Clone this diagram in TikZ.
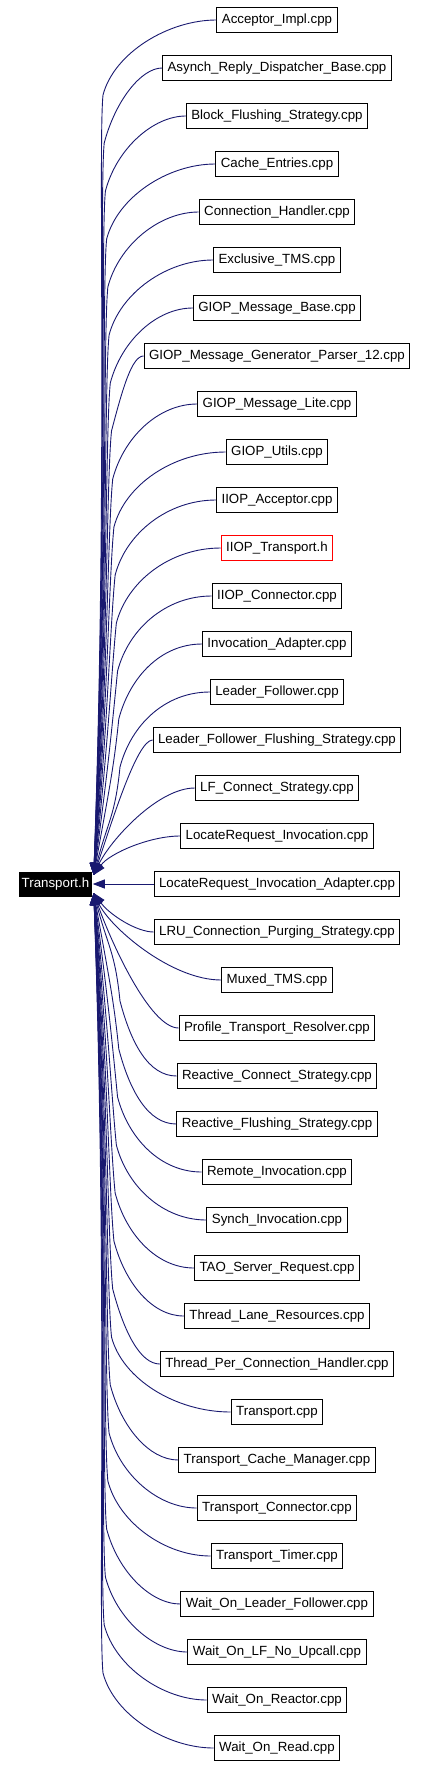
\documentclass[tikz,border=0pt]{standalone}
\usepackage{fontspec}
\setmainfont{Liberation Sans}
\usepackage{xcolor}
\usetikzlibrary{arrows.meta}
\usetikzlibrary{calc}
\definecolor{edgeblue}{RGB}{25,25,112}

\begin{document}
\begin{tikzpicture}[x=1pt, y=-1pt,
  every node/.style={font=\fontsize{13.3}{15}\selectfont, inner xsep=5pt, inner ysep=6pt, text height=10pt, text depth=3pt, line width=1pt},
  src/.style={draw=black},
  hdr/.style={draw=red},
  dep/.style={edgeblue, line width=0.9pt, -{Triangle[length=12pt, width=9pt]}}
]
\useasboundingbox (0,0) rectangle (430,1766);
\node[fill=black, text=white, inner xsep=3pt] (transport) at (55.5,884) {Transport.h};
\coordinate (tipup) at ($(transport.east)+(1,-9)$);
\coordinate (tiplow) at ($(transport.east)+(1,9)$);
\foreach \name/\kind [count=\i] in {
  Acceptor\_Impl.cpp/src, Asynch\_Reply\_Dispatcher\_Base.cpp/src,
  Block\_Flushing\_Strategy.cpp/src, Cache\_Entries.cpp/src,
  Connection\_Handler.cpp/src, Exclusive\_TMS.cpp/src,
  GIOP\_Message\_Base.cpp/src, GIOP\_Message\_Generator\_Parser\_12.cpp/src,
  GIOP\_Message\_Lite.cpp/src, GIOP\_Utils.cpp/src,
  IIOP\_Acceptor.cpp/src, IIOP\_Transport.h/hdr,
  IIOP\_Connector.cpp/src, Invocation\_Adapter.cpp/src,
  Leader\_Follower.cpp/src, Leader\_Follower\_Flushing\_Strategy.cpp/src,
  LF\_Connect\_Strategy.cpp/src, LocateRequest\_Invocation.cpp/src,
  LocateRequest\_Invocation\_Adapter.cpp/src, LRU\_Connection\_Purging\_Strategy.cpp/src,
  Muxed\_TMS.cpp/src, Profile\_Transport\_Resolver.cpp/src,
  Reactive\_Connect\_Strategy.cpp/src, Reactive\_Flushing\_Strategy.cpp/src,
  Remote\_Invocation.cpp/src, Synch\_Invocation.cpp/src,
  TAO\_Server\_Request.cpp/src, Thread\_Lane\_Resources.cpp/src,
  Thread\_Per\_Connection\_Handler.cpp/src, Transport.cpp/src,
  Transport\_Cache\_Manager.cpp/src, Transport\_Connector.cpp/src,
  Transport\_Timer.cpp/src, Wait\_On\_Leader\_Follower.cpp/src,
  Wait\_On\_LF\_No\_Upcall.cpp/src, Wait\_On\_Reactor.cpp/src,
  Wait\_On\_Read.cpp/src}
  \node[\kind] (f\i) at (277,{20+48*(\i-1)}) {\name};
\foreach \i in {1,...,18} {
  \pgfmathtruncatemacro{\rk}{19-\i}
  \pgfmathsetmacro{\yb}{20+48*(\i-1)}
  \ifnum\rk<4
    \draw[dep] let \p1=(f\i.west) in (f\i.west) .. controls ({0.5*\x1+60pt},\y1) and ($(tipup)+(16,{-12*\rk-10})$) .. (tipup);
  \else
    \pgfmathsetmacro{\xk}{103+17*(18-\rk)/14}
    \pgfmathsetmacro{\yk}{\yb+75}
    \pgfmathsetmacro{\len}{0.5*(875-\yk)}
    \draw[dep] let \p1=(f\i.west) in (f\i.west) .. controls ({0.5*\x1+60pt},\y1) and (\xk+11,\yk-42) .. (\xk,\yk) .. controls (\xk-5,\yk+50) and ($(tipup)+(14,-\len)$) .. (tipup);
  \fi
}
\draw[dep] (f19) -- (transport);
\foreach \i in {20,...,37} {
  \pgfmathtruncatemacro{\rk}{\i-19}
  \pgfmathsetmacro{\yb}{20+48*(\i-1)}
  \ifnum\rk<4
    \draw[dep] let \p1=(f\i.west) in (f\i.west) .. controls ({0.5*\x1+60pt},\y1) and ($(tiplow)+(16,{12*\rk+10})$) .. (tiplow);
  \else
    \pgfmathsetmacro{\xk}{103+17*(18-\rk)/14}
    \pgfmathsetmacro{\yk}{\yb-75}
    \pgfmathsetmacro{\len}{0.5*(\yk-893)}
    \draw[dep] let \p1=(f\i.west) in (f\i.west) .. controls ({0.5*\x1+60pt},\y1) and (\xk+11,\yk+42) .. (\xk,\yk) .. controls (\xk-5,\yk-50) and ($(tiplow)+(14,\len)$) .. (tiplow);
  \fi
}
\end{tikzpicture}
\end{document}
